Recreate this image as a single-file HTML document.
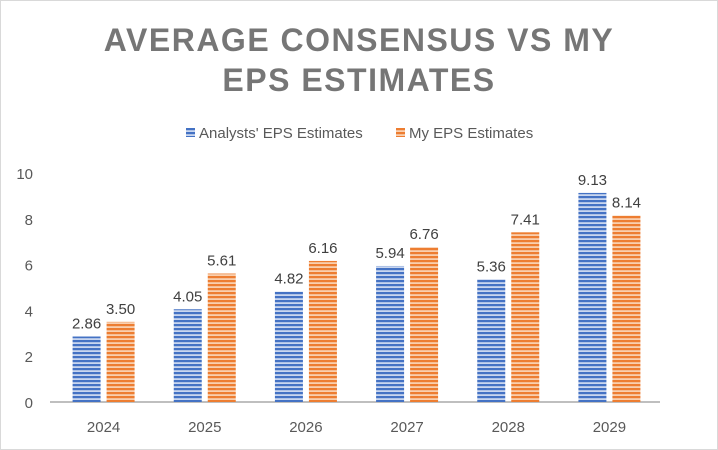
<!DOCTYPE html>
<html><head><meta charset="utf-8"><style>
body{margin:0;background:#fff;}
svg{display:block;font-family:"Liberation Sans",Arial,sans-serif;}
</style></head><body>
<svg id="chart" width="718" height="450">
<defs>
<pattern id="pb" width="4" height="4" patternUnits="userSpaceOnUse"><rect width="4" height="4" fill="#c9d6ef"/><rect width="4" height="2.2" fill="#4472c4"/></pattern>
<pattern id="po" width="4" height="4" patternUnits="userSpaceOnUse"><rect width="4" height="4" fill="#f9cfae"/><rect width="4" height="2.2" fill="#ed7d31"/></pattern>
</defs>
<rect x="0.5" y="0.5" width="717" height="449" fill="#fff" stroke="#d9d9d9"/>
<text x="359" y="51" text-anchor="middle" font-size="32" font-weight="bold" fill="#767676" letter-spacing="1.5">AVERAGE CONSENSUS VS MY</text>
<text x="359" y="91" text-anchor="middle" font-size="32" font-weight="bold" fill="#767676" letter-spacing="1.5">EPS ESTIMATES</text>
<g>
<rect x="186" y="128" width="9" height="9" fill="url(#pb)"/>
<text x="199" y="138" font-size="15" fill="#595959">Analysts' EPS Estimates</text>
<rect x="396" y="128" width="9" height="9" fill="url(#po)"/>
<text x="409" y="138" font-size="15" fill="#595959">My EPS Estimates</text>
</g>
<g id="plot"></g>
</svg>
<script>
const categories=["2024","2025","2026","2027","2028","2029"];
const analysts=[2.86,4.05,4.82,5.94,5.36,9.13];
const mine=[3.50,5.61,6.16,6.76,7.41,8.14];
const yTicks=[0,2,4,6,8,10];
const ns="http://www.w3.org/2000/svg";
const g=document.getElementById('plot');
const y0=402,y1=173,x0=53,x1=660;
const y=v=>y0-(v/10)*(y0-y1);
const step=(x1-x0)/categories.length;
const xc=i=>x0+step*(i+0.5);
function el(t,a){const e=document.createElementNS(ns,t);for(const k in a)e.setAttribute(k,a[k]);g.appendChild(e);return e;}
yTicks.forEach(t=>{const e=el('text',{x:33,y:y(t)+6,'text-anchor':'end','font-size':15,fill:'#595959'});e.textContent=t;

});
const ax=el('line',{x1:x0-3,x2:x1,y1:y0,y2:y0,stroke:'#bfbfbf','stroke-width':2});


categories.forEach((c,i)=>{
 const cx=xc(i);
 [[analysts[i],'url(#pb)',cx-31,'analysts'],[mine[i],'url(#po)',cx+3,'mine']].forEach(([v,f,bx,n])=>{
  const r=el('rect',{x:bx,y:y(v),width:28,height:y0-y(v),fill:f});
  
  
  const t=el('text',{x:bx+14,y:y(v)-8,'text-anchor':'middle','font-size':15,fill:'#404040'});
  t.textContent=v.toFixed(2);
  
  
 });
 const l=el('text',{x:cx,y:432,'text-anchor':'middle','font-size':15,fill:'#595959'});
 l.textContent=c;
 
 
});
</script>
</body></html>
